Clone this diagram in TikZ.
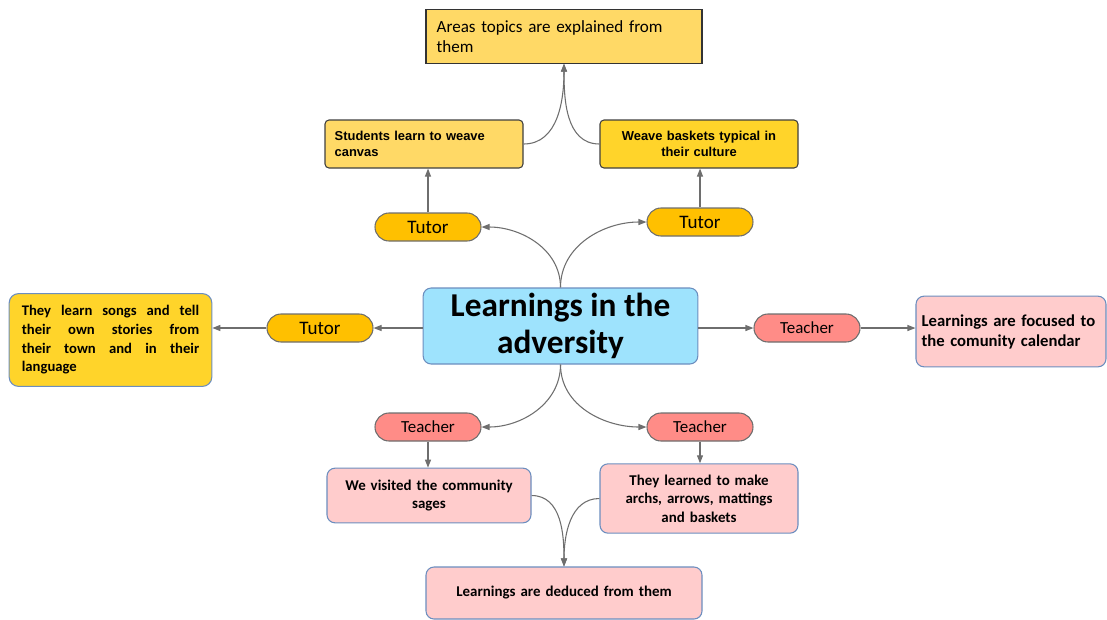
\documentclass[tikz,border=0pt]{standalone}
\usepackage{fontspec}
\setmainfont{Carlito}
\newfontfamily\arialfont{Liberation Sans}
\usepackage{xcolor}
\usepackage{tikz}
\usetikzlibrary{arrows.meta, positioning, shapes.geometric, calc}
\definecolor{LineGray}{RGB}{110,110,110}
\definecolor{PaleGold}{RGB}{255,217,102}
\definecolor{DeepGold}{RGB}{255,212,42}
\definecolor{PillGold}{RGB}{255,192,0}
\definecolor{PillRed}{RGB}{255,140,135}
\definecolor{PinkBG}{RGB}{255,204,204}
\definecolor{SkyBG}{RGB}{158,227,253}
\definecolor{BlueRule}{RGB}{108,142,191}
\newcommand{\jline}[1]{\leavevmode\hbox to 133pt{\spaceskip=0pt\xspaceskip=0pt #1}}

\begin{document}
\begin{tikzpicture}[
  x=0.75pt, y=-0.75pt,
  every node/.style={font=\fontsize{10}{12}\selectfont\bfseries},
  center/.style={draw=BlueRule, fill=SkyBG, rounded corners=6pt, line width=0.8pt,
                 minimum width=206pt, minimum height=57pt, align=center,
                 font=\fontsize{25}{30}\selectfont\bfseries},
  goldbox/.style={draw=black!75, fill=PaleGold, rounded corners=3pt, line width=0.8pt,
                  minimum width=148.5pt, minimum height=36pt, inner sep=7pt,
                  font=\arialfont\fontsize{9.7}{12}\selectfont\bfseries},
  pinkbox/.style={draw=BlueRule, fill=PinkBG, rounded corners=6pt, line width=0.8pt,
                  align=center, font=\fontsize{11.2}{13.8}\selectfont\bfseries},
  tutor/.style={draw=LineGray, fill=PillGold, rounded corners=10.5pt, line width=0.8pt,
                minimum width=79.5pt, minimum height=21pt,
                font=\fontsize{14.3}{15}\selectfont},
  teacher/.style={draw=LineGray, fill=PillRed, rounded corners=10.5pt, line width=0.8pt,
                  minimum width=79.5pt, minimum height=21pt,
                  font=\fontsize{12.7}{14}\selectfont},
  arrow/.style={-{Triangle[length=6pt, width=4.5pt]}, draw=LineGray, line width=0.8pt}
]
\useasboundingbox (0,0) rectangle (1107,619);
\node[center] (hub) at (560.5,326) {\raisebox{-2pt}{Learnings in the}\\adversity};
\node[draw=black!80, fill=PaleGold, line width=0.8pt, minimum width=207pt, minimum height=38pt,
      text width=191pt, align=left, inner sep=8pt, font=\fontsize{12.8}{15}\selectfont] (areas) at (564,36.5)
      {Areas topics are explained from\\them};
\node[goldbox, text width=134pt, align=left] (canvas) at (424,144) {Students learn to weave\\canvas};
\node[goldbox, fill=DeepGold, text width=134pt, align=center] (baskets) at (699,144) {Weave baskets typical in\\their culture};
\node[tutor] (tutorl) at (428,227) {Tutor};
\node[tutor] (tutorr) at (700,222) {Tutor};
\node[tutor] (tutorw) at (320,328) {Tutor};
\node[draw=BlueRule, fill=DeepGold, rounded corners=7pt, line width=0.8pt, minimum width=152pt,
      minimum height=66pt, text width=133pt, align=left, inner sep=9pt,
      font=\fontsize{11}{14}\selectfont\bfseries] (songs) at (110.5,340)
      {\jline{They learn songs and tell}\\\jline{their own stories from}\\\jline{their town and in their}\\language};
\node[teacher] (teachere) at (807,328) {Teacher};
\node[pinkbox, minimum width=142.5pt, minimum height=53pt, text width=134pt, inner sep=3pt, align=left,
      font=\fontsize{12.5}{15}\selectfont\bfseries] (calendar) at (1011,331.5)
      {Learnings are focused to\\the comunity calendar};
\node[teacher] (teacherl) at (428,427) {Teacher};
\node[teacher] (teacherr) at (700,427) {Teacher};
\node[pinkbox, minimum width=153pt, minimum height=41pt, text width=140pt] (sages) at (429,495.5) {We visited the community\\sages};
\node[pinkbox, minimum width=148.5pt, minimum height=52pt, text width=136pt] (crafts) at (699,498.5) {They learned to make\\archs, arrows, mattings\\and baskets};
\node[pinkbox, minimum width=207pt, minimum height=39pt, text width=190pt] (deduced) at (564,593) {Learnings are deduced from them};
\draw[arrow] (canvas.east) to[out=0, in=-90] (areas.south);
\draw[arrow] (baskets.west) to[out=180, in=-90] (areas.south);
\draw[arrow] (tutorl.north) -- (tutorl.north |- canvas.south);
\draw[arrow] (tutorr.north) -- (tutorr.north |- baskets.south);
\draw[arrow] (hub.north) to[out=90, in=0] (tutorl.east);
\draw[arrow] (hub.north) to[out=90, in=180] (tutorr.west);
\draw[arrow] (hub.west |- tutorw) -- (tutorw.east);
\draw[arrow] (tutorw.west) -- (songs.east |- tutorw);
\draw[arrow] (hub.east |- teachere) -- (teachere.west);
\draw[arrow] (teachere.east) -- (calendar.west |- teachere);
\draw[arrow] (hub.south) to[out=-90, in=0] (teacherl.east);
\draw[arrow] (hub.south) to[out=-90, in=180] (teacherr.west);
\draw[arrow] (teacherl.south) -- (teacherl.south |- sages.north);
\draw[arrow] (teacherr.south) -- (teacherr.south |- crafts.north);
\draw[arrow] (sages.east) to[out=0, in=90] (deduced.north);
\draw[arrow] (crafts.west) to[out=180, in=90] (deduced.north);
\end{tikzpicture}
\end{document}
